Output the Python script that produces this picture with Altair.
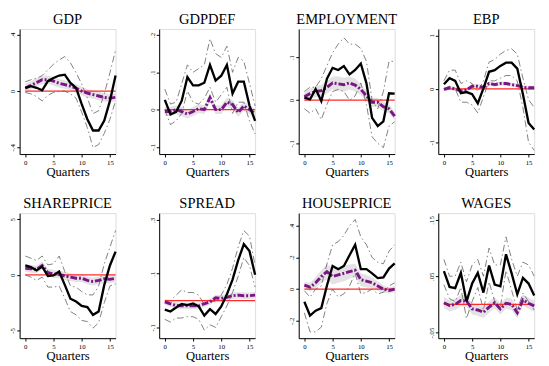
import altair as alt
import pandas as pd

QUARTERS = list(range(17))
NAMES = ["GDP", "GDPDEF", "EMPLOYMENT", "EBP", "SHAREPRICE", "SPREAD", "HOUSEPRICE", "WAGES"]

# GDP
GDP_B = [.023, .035, .023, .005, .07, .093, .11, .116, .058, .023, -.093, -.2, -.28, -.28, -.21, -.07, .11]
GDP_BU = [.065, .08, .09, .11, .15, .19, .22, .245, .2, .13, .05, -.05, -.16, -.14, -.02, .13, .29]
GDP_BL = [-.01, -.02, -.04, -.07, -.03, -.01, 0, 0, -.02, -.05, -.15, -.26, -.4, -.38, -.3, -.2, -.07]
GDP_P = [.02, .04, .06, .08, .08, .07, .055, .045, .035, .02, 0, -.015, -.025, -.035, -.045, -.05, -.045]
GDP_PU = [.05, .07, .09, .11, .11, .1, .085, .075, .065, .05, .03, .015, .005, -.005, -.015, -.02, -.015]
GDP_PL = [-.01, .01, .03, .05, .05, .04, .025, .015, .005, -.01, -.03, -.045, -.055, -.065, -.075, -.08, -.075]

# GDPDEF
DEF_B = [.026, -.013, -.006, .024, .087, .065, .065, .072, .12, .078, .091, .12, .043, .075, .075, .011, -.03]
DEF_BU = [.055, .015, .02, .07, .12, .1, .11, .12, .19, .15, .14, .17, .1, .14, .13, .07, .01]
DEF_BL = [0, -.04, -.03, -.01, .05, .02, .015, .03, .06, .02, .04, .06, -.01, .02, .02, -.03, -.065]
DEF_P = [-.005, -.005, 0, -.005, -.012, -.005, .003, 0, .032, 0, 0, .02, .014, -.008, .01, 0, -.01]
DEF_PU = [.007, .007, .012, .007, 0, .007, .015, .012, .044, .012, .012, .032, .026, .004, .022, .012, .002]
DEF_PL = [-.017, -.017, -.012, -.017, -.024, -.017, -.009, -.012, .02, -.012, -.012, .008, .002, -.02, -.002, -.012, -.022]

# EMPLOYMENT
EMP_B = [.006, .002, .026, -.002, .05, .075, .07, .079, .06, .07, .085, .039, -.041, -.06, -.049, .016, .015]
EMP_BU = [.02, .03, .03, .05, .08, .11, .13, .145, .13, .13, .12, .09, 0, -.02, .02, .09, .09]
EMP_BL = [-.02, -.03, -.02, -.045, -.01, .02, .025, .02, 0, .01, .04, -.01, -.085, -.1, -.11, -.06, -.05]
EMP_P = [.008, .015, .02, .022, .03, .04, .038, .036, .04, .035, .025, .01, -.005, -.005, -.015, -.02, -.037]
EMP_PU = [.018, .027, .033, .035, .045, .055, .055, .052, .055, .05, .038, .022, .006, .005, -.004, -.01, -.027]
EMP_PL = [-.002, .003, .007, .009, .015, .025, .021, .02, .025, .02, .012, -.002, -.016, -.015, -.026, -.03, -.047]

# EBP
EBP_B = [.086, .2, .15, -.08, -.06, -.1, -.27, .01, .32, .35, .43, .49, .49, .38, -.1, -.64, -.76]
EBP_BU = [.15, .35, .35, .1, .15, .1, -.05, .15, .5, .55, .65, .72, .75, .65, .2, -.2, -.35]
EBP_BL = [0, .05, 0, -.25, -.25, -.3, -.45, -.15, .15, .15, .2, .25, .25, .15, -.35, -1.0, -1.15]
EBP_P = [-.01, .02, 0, -.04, -.02, .05, .05, .03, .1, .08, .1, .1, .08, .06, .03, .02, .02]
EBP_PU = [.03, .06, .04, 0, .02, .09, .09, .07, .14, .12, .14, .14, .12, .1, .07, .06, .06]
EBP_PL = [-.05, -.02, -.04, -.08, -.06, .01, .01, -.01, .06, .04, .06, .06, .04, .02, -.01, -.02, -.02]

# SHAREPRICE
SHR_B = [.85, .7, .4, .75, -.1, -.05, .3, -.9, -2.15, -2.4, -2.8, -2.9, -3.6, -3.3, -.9, .85, 2.1]
SHR_BU = [1.7, 1.5, 1.3, 1.7, .9, 1.0, 1.7, .3, -1.0, -1.1, -1.5, -1.8, -1.8, -1.0, 1.0, 2.5, 4.0]
SHR_BL = [0, -.2, -.5, -.2, -1.1, -1.1, -1.0, -2.1, -3.3, -3.6, -4.1, -4.2, -4.8, -4.3, -2.5, -1.0, -.8]
SHR_P = [.6, .55, .5, .85, .2, .1, .05, -.1, -.2, -.3, -.3, -.5, -.6, -.5, -.35, -.4, -.3]
SHR_PU = [.95, .9, .85, 1.2, .55, .45, .4, .25, .15, .05, .05, -.15, -.25, -.15, 0, -.05, .05]
SHR_PL = [.25, .2, .15, .5, -.15, -.25, -.3, -.45, -.55, -.65, -.65, -.85, -.95, -.85, -.7, -.75, -.65]

# SPREAD
SPR_B = [-.034, -.041, -.026, -.013, -.017, -.011, -.022, -.056, -.032, -.05, -.022, .023, .078, .15, .21, .184, .096]
SPR_BU = [-.005, 0, .02, .04, .03, .03, .02, -.015, 0, -.005, .02, .06, .12, .2, .26, .24, .13]
SPR_BL = [-.07, -.08, -.065, -.065, -.06, -.06, -.07, -.11, -.09, -.1, -.06, -.02, .03, .09, .16, .13, .05]
SPR_P = [-.005, -.012, -.018, -.02, -.02, -.02, -.02, -.012, -.005, .01, .008, .012, .018, .02, .018, .018, .02]
SPR_PU = [.007, 0, -.006, -.008, -.008, -.008, -.008, 0, .007, .022, .02, .024, .03, .032, .03, .03, .032]
SPR_PL = [-.017, -.024, -.03, -.032, -.032, -.032, -.032, -.024, -.017, -.002, -.004, 0, .006, .008, .006, .006, .008]

# HOUSEPRICE
HSE_B = [-.08, -.167, -.136, -.12, .023, .146, .126, .146, .214, .28, .126, .126, .1, .07, .074, .13, .163]
HSE_BU = [-.01, -.05, 0, .02, .16, .28, .3, .34, .4, .44, .33, .28, .2, .17, .16, .24, .28]
HSE_BL = [-.15, -.27, -.27, -.24, -.09, 0, -.05, -.03, .02, .1, -.03, -.02, 0, -.03, -.02, .02, .04]
HSE_P = [.025, .012, .04, .08, .11, .08, .09, .1, .11, .12, .06, .05, .04, .02, 0, -.008, 0]
HSE_PU = [.045, .04, .075, .12, .16, .13, .14, .15, .155, .16, .1, .09, .075, .05, .025, .012, .02]
HSE_PL = [.005, -.015, .005, .04, .06, .03, .04, .05, .065, .08, .02, .01, .005, -.01, -.025, -.028, -.02]

# WAGES
WAG_B = [.059, .031, .029, .056, .005, .037, .056, .021, .069, .035, .032, .089, .055, .018, .047, .037, .016]
WAG_BU = [.08, .05, .05, .075, .04, .07, .08, .05, .1, .07, .07, .12, .08, .05, .075, .07, .05]
WAG_BL = [.035, .01, .005, .03, -.025, .005, .03, -.01, .04, .005, -.005, .06, .025, -.01, .02, .005, -.01]
WAG_P = [.003, -.002, 0, .007, .006, -.008, -.01, -.014, -.005, .003, -.008, .002, 0, -.015, .008, .002, -.003]
WAG_PU = [.013, .008, .01, .017, .016, .002, 0, -.004, .005, .013, .002, .012, .01, -.005, .018, .012, .007]
WAG_PL = [-.007, -.012, -.01, -.003, -.004, -.018, -.02, -.024, -.015, -.007, -.018, -.008, -.01, -.025, -.002, -.008, -.013]

Y_DOMAINS = [[-.447, .44], [-.119, .216], [-.125, .165], [-1.22, 1.12],
             [-5.7, 5.56], [-.14, .325], [-.31, .48], [-.06, .162]]
Y_TICKS = [[-.4, -.2, 0, .2, .4], [-.1, 0, .1, .2], [-.1, -.05, 0, .05, .1, .15], [-1, -.5, 0, .5, 1],
           [-5, 0, 5], [-.1, 0, .1, .2, .3], [-.2, 0, .2, .4], [-.05, 0, .05, .1, .15]]
X_TICKS = [0, 5, 10, 15]

SERIES = [
    (GDP_B, GDP_BU, GDP_BL, GDP_P, GDP_PU, GDP_PL),
    (DEF_B, DEF_BU, DEF_BL, DEF_P, DEF_PU, DEF_PL),
    (EMP_B, EMP_BU, EMP_BL, EMP_P, EMP_PU, EMP_PL),
    (EBP_B, EBP_BU, EBP_BL, EBP_P, EBP_PU, EBP_PL),
    (SHR_B, SHR_BU, SHR_BL, SHR_P, SHR_PU, SHR_PL),
    (SPR_B, SPR_BU, SPR_BL, SPR_P, SPR_PU, SPR_PL),
    (HSE_B, HSE_BU, HSE_BL, HSE_P, HSE_PU, HSE_PL),
    (WAG_B, WAG_BU, WAG_BL, WAG_P, WAG_PU, WAG_PL),
]

FONT = "Liberation Serif, Times New Roman, DejaVu Serif, serif"
W, H = 99, 129
LABEL_EXPR = "replace(replace(format(datum.value, '~g'), '0.', '.'), '\u2212', '-')"


def panel(i):
    b, bu, bl, p, pu, pl = SERIES[i]
    df = pd.DataFrame({"q": QUARTERS, "b": b, "bu": bu, "bl": bl, "p": p, "pu": pu, "pl": pl})
    x = alt.X("q:Q", scale=alt.Scale(domain=[-1, 16], nice=False, zero=False),
              axis=alt.Axis(values=X_TICKS, title="Quarters", labelFont=FONT, labelFontSize=7,
                            titleFont=FONT, titleFontSize=13, titleFontWeight=400,
                            titleColor="black", labelColor="black", tickSize=3, tickColor="black",
                            domainColor="black", grid=False, labelPadding=2, titlePadding=0,
                            labelFlush=False))
    yscale = alt.Scale(domain=Y_DOMAINS[i], nice=False, zero=False)
    yaxis = alt.Axis(values=Y_TICKS[i], title=None, labelFont=FONT, labelFontSize=7, labelAngle=270,
                     labelExpr=LABEL_EXPR, labelColor="black", tickSize=3, tickColor="black",
                     domainColor="black", grid=False, labelPadding=1, labelFlush=False)
    base = alt.Chart(df).encode(x=x)
    band = base.mark_area(color="#d9d9d9", opacity=0.75).encode(
        y=alt.Y("pl:Q", scale=yscale, axis=yaxis), y2="pu:Q")
    upper = base.mark_line(color="#707070", strokeWidth=0.9, strokeDash=[7, 3, 1.5, 3]).encode(
        y=alt.Y("bu:Q", scale=yscale))
    lower = base.mark_line(color="#707070", strokeWidth=0.9, strokeDash=[7, 3, 1.5, 3]).encode(
        y=alt.Y("bl:Q", scale=yscale))
    zero = base.mark_line(color="#ff2a2a", strokeWidth=1.3).encode(y=alt.datum(0))
    purple = base.mark_line(color="#7b1487", strokeWidth=3, strokeDash=[7, 2, 2, 2]).encode(
        y=alt.Y("p:Q", scale=yscale))
    black = base.mark_line(color="black", strokeWidth=2.4).encode(y=alt.Y("b:Q", scale=yscale))
    return alt.layer(band, upper, lower, zero, purple, black).properties(
        width=W, height=H,
        title=alt.TitleParams(text=NAMES[i], font=FONT, fontSize=15, fontWeight=400,
                              color="black", offset=2))


chart = alt.concat(*[panel(i) for i in range(8)], columns=4).properties(
    bounds="flush", spacing={"row": 61, "column": 45},
    padding={"left": 0, "top": -2, "right": 0, "bottom": -3}
).configure_view(strokeWidth=0).configure(background="white", font=FONT)

chart.save("out.html", embed_options={"renderer": "svg", "actions": False})
